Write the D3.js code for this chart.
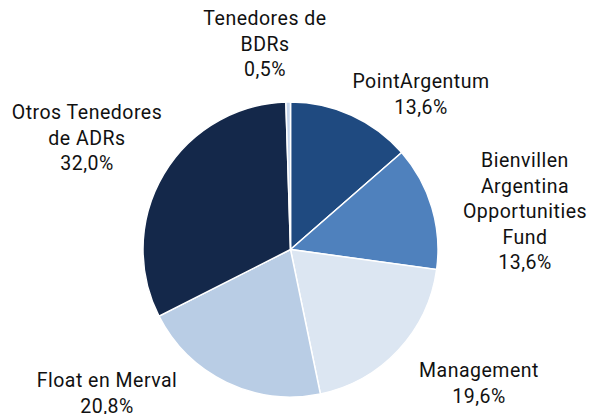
<!DOCTYPE html>
<html>
<head>
<meta charset="utf-8">
<script src="https://cdn.jsdelivr.net/npm/d3@7"></script>
<style>
  body { margin: 0; background: #fff; }
  text { font-family: Roboto, sans-serif; font-size: 19.5px; letter-spacing: 0.5px; fill: #111; }
</style>
</head>
<body>
<svg id="drawing_region"></svg>
<script>
const categories = ['PointArgentum', 'Bienvillen Argentina Opportunities Fund', 'Management', 'Float en Merval', 'Otros Tenedores de ADRs', 'Tenedores de BDRs'];
const values = [13.6, 13.6, 19.6, 20.8, 32.0, 0.5];
const labelLines = [
    ['PointArgentum'],
    ['Bienvillen', 'Argentina', 'Opportunities', 'Fund'],
    ['Management'],
    ['Float en Merval'],
    ['Otros Tenedores', 'de ADRs'],
    ['Tenedores de', 'BDRs']
];
const colors = ['#1f4a80', '#4f81bd', '#dce6f2', '#b9cde5', '#14284a', '#c6d6ec'];

// label anchor (center of first line) - positions
const labelPos = [
    [421, 81], [525, 160], [479, 370], [107, 380], [87, 112], [265, 18]
];

const config = { width: 595, height: 414, cx: 290.5, cy: 249.5, r: 147.5, lineH: 25.5 };

const svg = d3.select('#drawing_region')
    .attr('width', config.width)
    .attr('height', config.height);

const data = categories.map((c, i) => ({ name: c, value: values[i], lines: labelLines[i], i: i }));

const pie = d3.pie()
    .sort(null)
    .value(d => d.value);

const arc = d3.arc()
    .innerRadius(0)
    .outerRadius(config.r);

const color = d3.scaleOrdinal()
    .domain(categories)
    .range(colors);

const chart = svg.append('g')
    .attr('transform', `translate(${config.cx}, ${config.cy})`);

chart.selectAll('path')
    .data(pie(data))
    .join('path')
    .attr('d', arc)
    .attr('fill', d => color(d.data.name))
    .attr('stroke', '#fff')
    .attr('stroke-width', 1.5);

const fmt = v => v.toFixed(1).replace('.', ',') + '%';

const labels = svg.selectAll('text.lbl')
    .data(data)
    .join('text')
    .attr('class', 'lbl')
    .attr('text-anchor', 'middle')
    .attr('dominant-baseline', 'central');

labels.each(function(d) {
    const t = d3.select(this);
    const [x, y] = labelPos[d.i];
    const lines = d.lines.concat([fmt(d.value)]);
    lines.forEach((l, k) => {
        t.append('tspan')
            .attr('x', x)
            .attr('y', y + k * config.lineH)
            .text(l);
    });
});
</script>
</body>
</html>
